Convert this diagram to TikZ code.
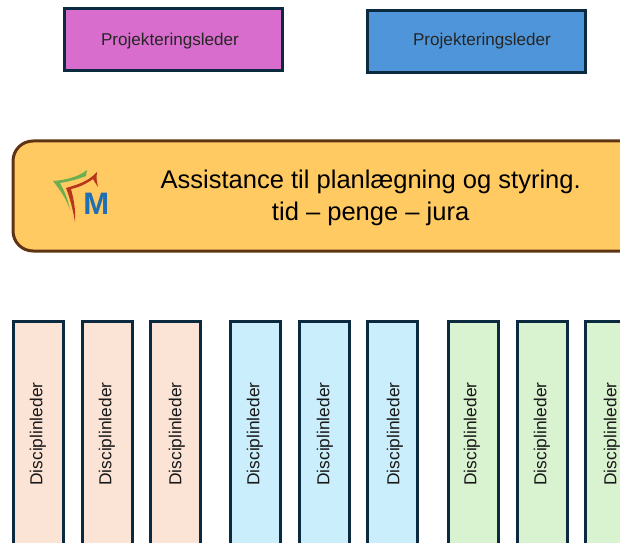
\documentclass[tikz,border=0pt]{standalone}
\usepackage{fontspec}
\setmainfont{Liberation Sans}
\usepackage{tikz}
\definecolor{boxline}{HTML}{0B2A3F}
\definecolor{pinkfill}{HTML}{D86DCD}
\definecolor{bluefill}{HTML}{4E95D9}
\definecolor{bannerfill}{HTML}{FFCA61}
\definecolor{bannerline}{HTML}{5F3413}
\definecolor{peachfill}{HTML}{FBE3D6}
\definecolor{skyfill}{HTML}{CAEEFB}
\definecolor{greenfill}{HTML}{D9F2D0}
\definecolor{logogreen}{HTML}{6DAE4F}
\definecolor{logored}{HTML}{B8351C}
\definecolor{logoblue}{HTML}{1F6FB2}
\tikzset{
  leaderbox/.style={draw=boxline, line width=0.09cm, minimum width=6.54cm, minimum height=1.86cm},
  leadertext/.style={font=\fontsize{14.6pt}{17pt}\selectfont, text=black!85},
  disciplinbox/.style={draw=boxline, line width=0.09cm, minimum width=1.5cm, minimum height=6.78cm},
  disciplintext/.style={rotate=90, font=\fontsize{14.8pt}{17pt}\selectfont, text=black!90}
}
\begin{document}
\begin{tikzpicture}
\clip (0cm,0cm) rectangle (18.6cm,-16.29cm);
% top boxes
\node[leaderbox, fill=pinkfill] (pink) at (5.19cm,-1.2cm) {};
\node[leaderbox, fill=bluefill] (blue) at (14.28cm,-1.26cm) {};
\node[leadertext] (pinktext) at (5.1cm,-1.22cm) {Projekteringsleder};
\node[leadertext] (bluetext) at (14.46cm,-1.22cm) {Projekteringsleder};
% banner
\node[draw=bannerline, fill=bannerfill, line width=0.09cm, rounded corners=0.6cm, minimum width=19.11cm, minimum height=3.3cm] (banner) at (9.945cm,-5.88cm) {};
\node[align=center, font=\fontsize{21.8pt}{27pt}\selectfont] (bannertext) at (11.12cm,-5.94cm) {Assistance til planlægning og styring.\\tid -- penge -- jura};
% logo
\fill[logogreen] (1.59cm,-5.43cm) .. controls (1.98cm,-5.4cm) and (2.34cm,-5.31cm) .. (2.61cm,-5.1cm) -- (2.58cm,-5.28cm) .. controls (2.28cm,-5.4cm) and (1.98cm,-5.46cm) .. (1.8cm,-5.49cm) .. controls (1.95cm,-5.76cm) and (2.04cm,-6cm) .. (2.1cm,-6.3cm) .. controls (1.98cm,-5.94cm) and (1.8cm,-5.7cm) .. cycle;
\fill[logored] (1.98cm,-5.64cm) .. controls (2.28cm,-5.55cm) and (2.64cm,-5.46cm) .. (2.91cm,-5.16cm) .. controls (2.88cm,-5.34cm) and (2.91cm,-5.46cm) .. (2.94cm,-5.61cm) .. controls (2.88cm,-5.52cm) and (2.82cm,-5.43cm) .. (2.79cm,-5.37cm) .. controls (2.58cm,-5.52cm) and (2.4cm,-5.61cm) .. (2.13cm,-5.67cm) .. controls (2.22cm,-6cm) and (2.28cm,-6.36cm) .. (2.25cm,-6.66cm) .. controls (2.19cm,-6.3cm) and (2.1cm,-5.94cm) .. cycle;
\node[text=logoblue, font=\bfseries\fontsize{26.5pt}{26.5pt}\selectfont, inner sep=0pt] (logom) at (2.89cm,-6.12cm) {M};
% discipline columns
\node[disciplinbox, fill=peachfill] (d1) at (1.155cm,-13.02cm) {};
\node[disciplinbox, fill=peachfill] (d2) at (3.225cm,-13.02cm) {};
\node[disciplinbox, fill=peachfill] (d3) at (5.25cm,-13.02cm) {};
\node[disciplinbox, fill=skyfill] (d4) at (7.65cm,-13.02cm) {};
\node[disciplinbox, fill=skyfill] (d5) at (9.72cm,-13.02cm) {};
\node[disciplinbox, fill=skyfill] (d6) at (11.76cm,-13.02cm) {};
\node[disciplinbox, fill=greenfill] (d7) at (14.19cm,-13.02cm) {};
\node[disciplinbox, fill=greenfill] (d8) at (16.26cm,-13.02cm) {};
\node[disciplinbox, fill=greenfill] (d9) at (18.3cm,-13.02cm) {};
\node[disciplintext] (t1) at (1.14cm,-13.02cm) {Disciplinleder};
\node[disciplintext] (t2) at (3.21cm,-13.02cm) {Disciplinleder};
\node[disciplintext] (t3) at (5.31cm,-13.02cm) {Disciplinleder};
\node[disciplintext] (t4) at (7.65cm,-13.02cm) {Disciplinleder};
\node[disciplintext] (t5) at (9.75cm,-13.02cm) {Disciplinleder};
\node[disciplintext] (t6) at (11.85cm,-13.02cm) {Disciplinleder};
\node[disciplintext] (t7) at (14.16cm,-13.02cm) {Disciplinleder};
\node[disciplintext] (t8) at (16.26cm,-13.02cm) {Disciplinleder};
\node[disciplintext] (t9) at (18.36cm,-13.02cm) {Disciplinleder};
\end{tikzpicture}
\end{document}
